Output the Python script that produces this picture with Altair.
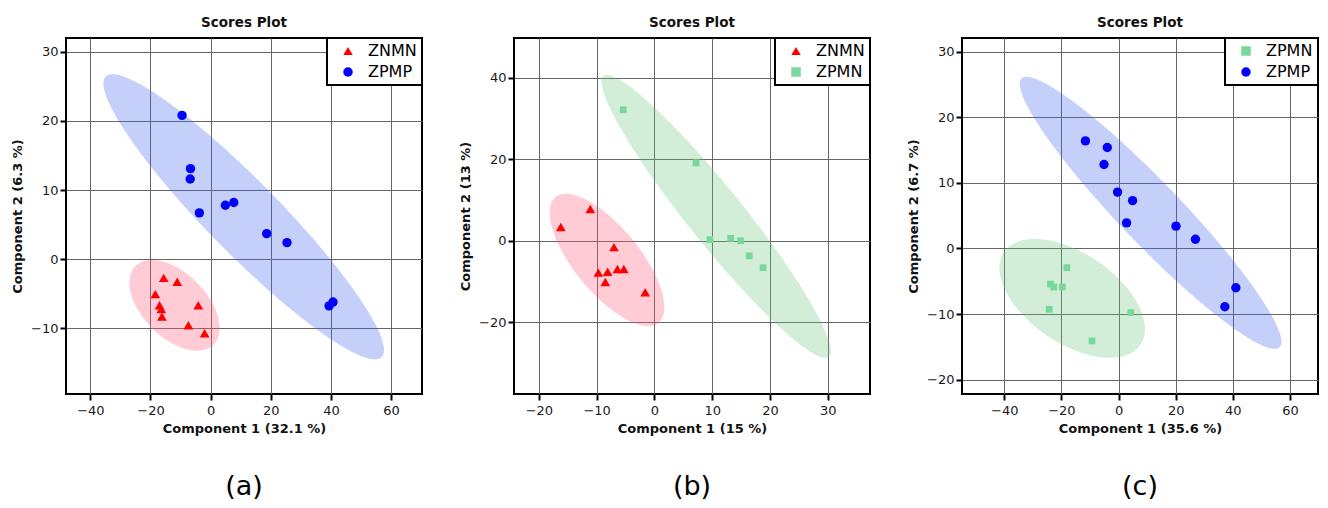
import altair as alt
import numpy as np
import pandas as pd

FONT = "DejaVu Sans"

# ---------------- data ----------------
# panel (a)
a_znmn_x = [-15.6, -11.1, -18.4, -17.0, -16.4, -16.2, -4.1, -7.4, -2.0]
a_znmn_y = [-2.7, -3.25, -5.05, -6.65, -7.2, -8.3, -6.65, -9.55, -10.7]
a_zpmp_x = [-9.5, -6.7, -6.8, -3.75, 4.9, 7.7, 18.65, 25.4, 39.4, 40.7]
a_zpmp_y = [20.8, 13.1, 11.6, 6.7, 7.8, 8.2, 3.7, 2.4, -6.75, -6.2]
# panel (b)
b_znmn_x = [-16.2, -11.1, -7.0, -9.7, -8.1, -8.5, -6.4, -5.3, -1.6]
b_znmn_y = [3.4, 7.8, -1.55, -7.8, -7.6, -10.1, -6.9, -6.9, -12.6]
b_zpmn_x = [-5.4, 7.2, 9.6, 13.2, 14.9, 16.4, 18.8]
b_zpmn_y = [32.1, 19.1, 0.3, 0.6, 0.0, -3.7, -6.6]
# panel (c)
c_zpmn_x = [-18.1, -23.85, -22.66, -19.66, -24.3, 4.3, -9.3]
c_zpmn_y = [-2.94, -5.43, -5.88, -5.88, -9.28, -9.79, -14.1]
c_zpmp_x = [-11.6, -3.95, -5.1, -0.35, 4.9, 2.8, 20.1, 26.9, 41.05, 37.2]
c_zpmp_y = [16.4, 15.4, 12.8, 8.6, 7.3, 3.9, 3.4, 1.4, -6.0, -8.9]

x_titles = ["Component 1 (32.1 %)", "Component 1 (15 %)", "Component 1 (35.6 %)"]
y_titles = ["Component 2 (6.3 %)", "Component 2 (13 %)", "Component 2 (6.7 %)"]
tags = ["(a)", "(b)", "(c)"]
x_domains = [[-48.1, 70.3], [-24.3, 37.3], [-54.8, 69.8]]
y_domains = [[-19.5, 32.0], [-37.55, 49.7], [-22.2, 32.1]]
x_ticks = [[-40, -20, 0, 20, 40, 60], [-20, -10, 0, 10, 20, 30], [-40, -20, 0, 20, 40, 60]]
y_ticks = [[-10, 0, 10, 20, 30], [-20, 0, 20, 40], [-20, -10, 0, 10, 20, 30]]

point_color = {"ZNMN": "#FF0000", "ZPMP": "#0000FF", "ZPMN": "#78D89A"}
ellipse_color = {"ZNMN": "#FF5577", "ZPMP": "#3E62EE", "ZPMN": "#69C680"}
point_shape = {"ZNMN": "triangle-up", "ZPMP": "circle", "ZPMN": "square"}
point_size = {"ZNMN": 95, "ZPMP": 88, "ZPMN": 46}

W, H = 356, 356


def conf_ellipse(xs, ys, level_t=np.sqrt(-2 * np.log(0.05)), n=181):
    """95% confidence ellipse (mean, covariance) split into upper/lower curves."""
    xs = np.asarray(xs, float)
    ys = np.asarray(ys, float)
    cx, cy = xs.mean(), ys.mean()
    S = np.cov(xs, ys)
    sxx, syy, sxy = S[0, 0], S[1, 1], S[0, 1]
    th = np.linspace(0, np.pi, n)
    dx = level_t * np.sqrt(sxx) * np.cos(th)
    half = level_t * np.sqrt(max(syy - sxy ** 2 / sxx, 0)) * np.abs(np.sin(th))
    mid = cy + sxy / sxx * dx
    return cx + dx, mid + half, mid - half


def panel(i, groups):
    pts_rows, ell_rows = [], []
    for g, xs, ys in groups:
        for xv, yv in zip(xs, ys):
            pts_rows.append({"group": g, "x": xv, "y": yv, "sz": point_size[g]})
        ex, eu, el = conf_ellipse(xs, ys)
        for a, b, c in zip(ex, eu, el):
            ell_rows.append({"group": g, "x": a, "y": b, "y2": c, "fc": ellipse_color[g]})
    pdf = pd.DataFrame(pts_rows)
    edf = pd.DataFrame(ell_rows)
    names = [g for g, _, _ in groups]

    xscale = alt.Scale(domain=x_domains[i], nice=False, zero=False)
    yscale = alt.Scale(domain=y_domains[i], nice=False, zero=False)
    xaxis = alt.Axis(values=x_ticks[i], title=x_titles[i])
    yaxis = alt.Axis(values=y_ticks[i], title=y_titles[i])

    ell = alt.Chart(edf).mark_area(opacity=0.3, clip=True).encode(
        x=alt.X("x:Q", scale=xscale, axis=xaxis),
        y=alt.Y("y:Q", scale=yscale, axis=yaxis, stack=None),
        y2="y2:Q",
        fill=alt.Fill("fc:N", scale=None),
        detail="group:N",
    )
    pts = alt.Chart(pdf).mark_point(filled=True, opacity=1, strokeWidth=0).encode(
        x=alt.X("x:Q", scale=xscale, axis=xaxis),
        y=alt.Y("y:Q", scale=yscale, axis=yaxis),
        color=alt.Color("group:N", scale=alt.Scale(domain=names, range=[point_color[g] for g in names]), title=None),
        shape=alt.Shape("group:N", scale=alt.Scale(domain=names, range=[point_shape[g] for g in names]), title=None),
        size=alt.Size("sz:Q", scale=None),
    )
    txt = alt.Chart(pd.DataFrame({"t": [tags[i]]})).mark_text(
        font=FONT, fontSize=27, color="black", baseline="middle", align="center"
    ).encode(text="t:N", x=alt.value(W / 2), y=alt.value(449))
    return alt.layer(ell, pts, txt).properties(
        width=W, height=H,
        title=alt.TitleParams("Scores Plot", font=FONT, fontSize=13.5, fontWeight="bold", color="#111111", offset=8),
    )


pa = panel(0, [("ZNMN", a_znmn_x, a_znmn_y), ("ZPMP", a_zpmp_x, a_zpmp_y)])
pb = panel(1, [("ZNMN", b_znmn_x, b_znmn_y), ("ZPMN", b_zpmn_x, b_zpmn_y)])
pc = panel(2, [("ZPMN", c_zpmn_x, c_zpmn_y), ("ZPMP", c_zpmp_x, c_zpmp_y)])

chart = (
    alt.hconcat(pa, pb, pc, spacing=92, bounds="flush")
    .resolve_scale(x="independent", y="independent", color="independent", shape="independent")
    .resolve_legend(color="independent", shape="independent")
    .properties(padding={"left": 2, "top": 6, "right": 0, "bottom": 0}, background="white")
    .configure_view(stroke="black", strokeWidth=2)
    .configure_axis(
        labelFont=FONT, labelFontSize=13, labelColor="#1a1a1a",
        titleFont=FONT, titleFontSize=13, titleFontWeight="bold", titleColor="#111111",
        tickColor="black", tickWidth=2, tickSize=6, domain=False,
        grid=True, gridColor="#666666", gridWidth=1, labelOverlap=False,
    )
    .configure_axisX(labelPadding=4, titlePadding=5)
    .configure_axisY(labelPadding=2, titlePadding=6)
    .configure_legend(
        orient="top-right", offset=0, padding=5, strokeColor="black", strokeWidth=2,
        fillColor="white", labelFont=FONT, labelFontSize=16, labelColor="black",
        symbolSize=90, symbolOffset=8, labelOffset=12, rowPadding=5, symbolStrokeWidth=0,
        cornerRadius=0,
    )
)

chart.save("out.html", embed_options={"renderer": "svg", "actions": False})
